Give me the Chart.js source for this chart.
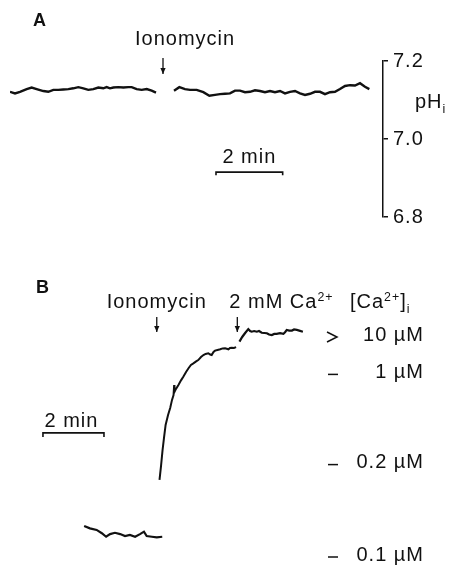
<!DOCTYPE html>
<html><head><meta charset="utf-8">
<script src="https://cdn.jsdelivr.net/npm/chart.js@4.4.1/dist/chart.umd.min.js"></script>
<style>
html,body{margin:0;padding:0;background:#fff;overflow:hidden;width:457px;height:565px;}
#wrap{position:absolute;left:0;top:0;width:457px;height:600px;}
canvas{position:absolute;left:0;top:0;}
</style></head><body>
<div id="wrap">
<canvas id="a" width="457" height="565" style="width:457px;height:565px"></canvas>
<canvas id="b" width="457" height="585" style="width:457px;height:585px"></canvas>
</div>
<script>
// ---------- Panel A : pHi (time in min) ----------
const phTime1 = [0.00,0.15,0.30,0.50,0.65,0.80,1.00,1.15,1.30,1.45,1.60,1.75,1.90,2.05,2.20,2.35,2.50,2.65,2.80,2.90,3.00,3.10,3.25,3.40,3.55,3.65,3.80,3.95,4.10,4.25,4.38];
const phValue1 = [7.121,7.117,7.121,7.128,7.132,7.128,7.123,7.121,7.126,7.126,7.127,7.128,7.130,7.133,7.130,7.126,7.128,7.132,7.130,7.133,7.130,7.132,7.133,7.132,7.133,7.133,7.128,7.126,7.128,7.124,7.119];
const phTime2 = [4.92,5.08,5.25,5.40,5.60,5.80,5.98,6.15,6.30,6.45,6.60,6.75,6.90,7.05,7.20,7.35,7.50,7.65,7.80,7.95,8.10,8.25,8.40,8.55,8.70,8.85,9.00,9.15,9.30,9.45,9.60,9.75,9.90,10.05,10.20,10.35,10.50,10.65,10.78];
const phValue2 = [7.124,7.133,7.128,7.126,7.126,7.120,7.111,7.113,7.115,7.116,7.117,7.124,7.124,7.120,7.121,7.125,7.123,7.120,7.123,7.120,7.123,7.117,7.121,7.123,7.117,7.113,7.116,7.121,7.121,7.115,7.120,7.121,7.128,7.136,7.138,7.137,7.143,7.134,7.128];
const phTicks = [7.2, 7.0, 6.8];
const ionomycinA = 4.59;          // min
const scaleBarA = [6.18, 8.18];   // 2 min
const scaleBarALevel = 6.915;

// ---------- Panel B : [Ca2+]i signal (arbitrary fluorescence units) ----------
const caBaseTime = [2.43,2.62,2.84,3.01,3.15,3.28,3.44,3.61,3.77,3.93,4.10,4.26,4.39,4.48,4.65,4.81,4.99];
const caBaseSignal = [13.2,12.1,11.4,9.9,8.3,9.5,10.1,9.5,8.6,9.1,8.3,9.5,10.6,8.6,8.3,8.0,8.3];
const caRiseTime = [4.90,4.95,5.00,5.05,5.10,5.18,5.25,5.31,5.36,5.38,5.39,5.44,5.52,5.61,5.68,5.77,5.85,5.93,6.01,6.10,6.17,6.26,6.34,6.41,6.50,6.56,6.61,6.67,6.72,6.80,6.89,6.97,7.05,7.16,7.21,7.27,7.34,7.41];
const caRiseSignal = [34.1,40.5,47.7,53.6,59.1,63.6,66.8,70.5,72.7,77.3,74.1,75.5,77.3,79.5,81.0,83.2,84.9,86.4,87.1,88.0,88.6,90.0,90.9,91.4,91.7,91.1,90.9,92.3,92.9,93.2,93.5,93.9,94.0,93.5,94.1,94.2,94.1,94.5];
const caPlatTime = [7.52,7.61,7.70,7.81,7.87,7.92,8.00,8.09,8.16,8.25,8.33,8.42,8.49,8.58,8.66,8.74,8.85,8.96,9.02,9.07,9.15,9.24,9.31,9.40,9.48,9.60];
const caPlatSignal = [97.0,99.1,100.8,102.7,101.8,101.5,101.8,101.5,101.8,101.0,100.9,100.8,100.2,100.0,100.5,100.5,100.8,100.5,101.4,102.3,102.0,102.0,102.5,102.3,102.0,101.5];
const caTickSignal = [100, 83, 42, 0];
const caTickLabels = ['10 µM', '1 µM', '0.2 µM', '0.1 µM'];
const caTickMarks = ['>', '-', '-', '-'];
const ionomycinB = 4.81;
const calciumB = 7.45;
const scaleBarB = [1.08, 3.08];
const scaleBarBLevel = 55.5;

// ---------- drawing helpers ----------
const FONT = "'Liberation Sans', Arial, Helvetica, sans-serif";
const INK = '#111';
Chart.defaults.font.family = FONT;
Chart.defaults.color = INK;

function rich(ctx, parts, x, y, align, size) {
  const sz = p => p[1] === 0 ? size : size * 0.62;
  const widths = parts.map(p => { ctx.font = `${sz(p)}px ${FONT}`; return ctx.measureText(p[0]).width; });
  const total = widths.reduce((a, b) => a + b, 0);
  let cx = align === 'center' ? x - total / 2 : align === 'right' ? x - total : x;
  ctx.textAlign = 'left'; ctx.textBaseline = 'alphabetic';
  parts.forEach((p, i) => {
    ctx.font = `${sz(p)}px ${FONT}`;
    const dy = p[1] === 1 ? -size * 0.36 : p[1] === -1 ? size * 0.25 : 0;
    ctx.fillText(p[0], cx, y + dy);
    cx += widths[i];
  });
}
function arrow(ctx, x, y1, y2) {
  ctx.lineWidth = 1.3;
  ctx.beginPath(); ctx.moveTo(x, y1); ctx.lineTo(x, y2); ctx.stroke();
  ctx.beginPath(); ctx.moveTo(x - 2.6, y2 - 6); ctx.lineTo(x, y2); ctx.lineTo(x + 2.6, y2 - 6); ctx.closePath(); ctx.fill();
}
function bar(ctx, x1, x2, y, drop) {
  ctx.lineWidth = 1.6;
  ctx.beginPath(); ctx.moveTo(x1, y + drop); ctx.lineTo(x1, y); ctx.lineTo(x2, y); ctx.lineTo(x2, y + drop); ctx.stroke();
}
const spacing = { id: 'spacing',
  beforeUpdate(chart) { chart.ctx.letterSpacing = '1px'; },
  beforeDraw(chart) { chart.ctx.letterSpacing = '1px'; } };

const annotA = { id: 'annotA', afterDraw(chart) {
  const { ctx, scales: { x, y } } = chart;
  ctx.save();
  ctx.fillStyle = INK; ctx.strokeStyle = INK; ctx.letterSpacing = '1px';
  ctx.font = `bold 18px ${FONT}`; ctx.textAlign = 'left'; ctx.textBaseline = 'alphabetic';
  ctx.fillText('A', 33, 26);
  const ax = x.getPixelForValue(ionomycinA);
  rich(ctx, [['Ionomycin', 0]], ax - 28, 45, 'left', 20);
  arrow(ctx, ax, 58, 74);
  const x1 = x.getPixelForValue(scaleBarA[0]), x2 = x.getPixelForValue(scaleBarA[1]);
  const yb = y.getPixelForValue(scaleBarALevel);
  bar(ctx, x1, x2, yb, 3);
  rich(ctx, [['2 min', 0]], (x1 + x2) / 2, yb - 9, 'center', 20);
  rich(ctx, [['pH', 0], ['i', -1]], 415, 108, 'left', 20);
  ctx.restore();
} };

const annotB = { id: 'annotB', afterDraw(chart) {
  const { ctx, scales: { x, y } } = chart;
  ctx.save();
  ctx.fillStyle = INK; ctx.strokeStyle = INK; ctx.letterSpacing = '1px';
  ctx.font = `bold 18px ${FONT}`; ctx.textAlign = 'left'; ctx.textBaseline = 'alphabetic';
  ctx.fillText('B', 36, 293);
  const ix = x.getPixelForValue(ionomycinB), cx = x.getPixelForValue(calciumB);
  rich(ctx, [['Ionomycin', 0]], ix, 308, 'center', 20);
  arrow(ctx, ix, 317, 332);
  rich(ctx, [['2 mM Ca', 0], ['2+', 1]], cx - 8, 308, 'left', 20);
  arrow(ctx, cx, 317, 332);
  rich(ctx, [['[Ca', 0], ['2+', 1], [']', 0], ['i', -1]], 350, 308, 'left', 20);
  ctx.lineWidth = 1.5;
  caTickSignal.forEach((v, i) => {
    const py = y.getPixelForValue(v) + 2;
    ctx.beginPath();
    if (caTickMarks[i] === '>') { ctx.moveTo(327, py - 5); ctx.lineTo(337, py); ctx.lineTo(327, py + 5); }
    else { ctx.moveTo(328, py); ctx.lineTo(338, py); }
    ctx.stroke();
  });
  const x1 = x.getPixelForValue(scaleBarB[0]), x2 = x.getPixelForValue(scaleBarB[1]);
  const yb = y.getPixelForValue(scaleBarBLevel);
  bar(ctx, x1, x2, yb, 4);
  rich(ctx, [['2 min', 0]], (x1 + x2) / 2 - 2, yb - 6, 'center', 20);
  ctx.restore();
} };

const pts = (t, v) => t.map((ti, i) => ({ x: ti, y: v[i] }));
const lineDs = (t, v, w) => ({ data: pts(t, v), borderColor: INK, borderWidth: w, pointRadius: 0, tension: 0, fill: false });

new Chart(document.getElementById('a'), {
  type: 'line',
  data: { datasets: [lineDs(phTime1, phValue1, 2.4), lineDs(phTime2, phValue2, 2.4)] },
  options: {
    responsive: false, animation: false, devicePixelRatio: 1,
    layout: { padding: { left: 10, top: 61, right: 0, bottom: 565 - 217 } },
    plugins: { legend: { display: false }, tooltip: { enabled: false } },
    scales: {
      x: { type: 'linear', display: false, min: 0, max: 11.19 },
      y: { type: 'linear', position: 'right', min: 6.8, max: 7.2,
        afterBuildTicks: s => { s.ticks = phTicks.map(v => ({ value: v })); },
        afterFit: s => { s.width = 457 - 383; },
        grid: { drawOnChartArea: false, drawTicks: true, tickLength: 5, color: INK, lineWidth: 1.5 },
        border: { display: true, color: INK, width: 1.5 },
        ticks: { color: INK, font: { size: 20 }, padding: 5, autoSkip: false, callback: v => Number(v).toFixed(1) } }
    }
  },
  plugins: [spacing, annotA]
});

new Chart(document.getElementById('b'), {
  type: 'line',
  data: { datasets: [lineDs(caBaseTime, caBaseSignal, 2.2), lineDs(caRiseTime, caRiseSignal, 2), lineDs(caPlatTime, caPlatSignal, 2.2)] },
  options: {
    responsive: false, animation: false, devicePixelRatio: 1,
    layout: { padding: { left: 10, top: 313, right: 33, bottom: 585 - 559.4 } },
    plugins: { legend: { display: false }, tooltip: { enabled: false } },
    scales: {
      x: { type: 'linear', display: false, min: 0, max: 10.16 },
      y: { type: 'linear', position: 'right', min: -2, max: 110,
        afterBuildTicks: s => { s.ticks = caTickSignal.map(v => ({ value: v })); },
        afterFit: s => { s.width = 424 - 320; },
        grid: { display: false, drawTicks: false, drawOnChartArea: false },
        border: { display: false },
        ticks: { color: INK, font: { size: 20 }, padding: 10, crossAlign: 'far', autoSkip: false,
          callback: (v, i) => caTickLabels[i] } }
    }
  },
  plugins: [spacing, annotB]
});
</script>
</body></html>
